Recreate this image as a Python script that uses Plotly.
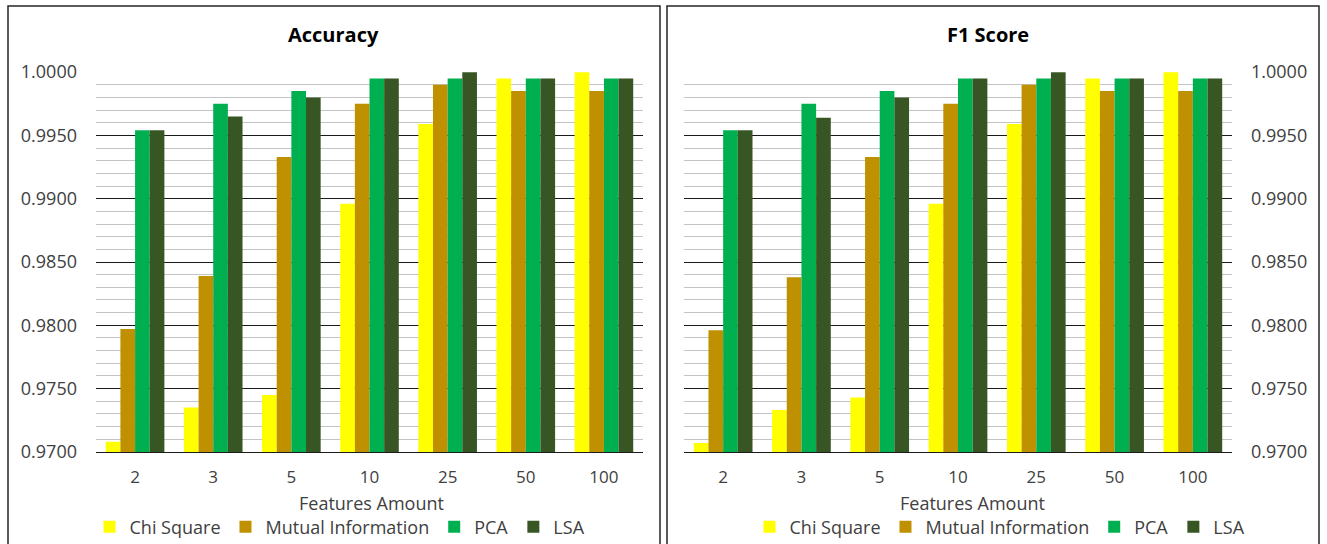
import plotly.graph_objects as go

W, H = 1327, 544

categories = ["2", "3", "5", "10", "25", "50", "100"]
series_names = ["Chi Square", "Mutual Information", "PCA", "LSA"]
series_colors = ["#FFFF00", "#BF9000", "#00B050", "#375623"]

acc_chi = [0.9708, 0.9735, 0.9745, 0.9896, 0.9959, 0.9995, 1.0000]
acc_mi = [0.9797, 0.9839, 0.9933, 0.9975, 0.9990, 0.9985, 0.9985]
acc_pca = [0.9954, 0.9975, 0.9985, 0.9995, 0.9995, 0.9995, 0.9995]
acc_lsa = [0.9954, 0.9965, 0.9980, 0.9995, 1.0000, 0.9995, 0.9995]

f1_chi = [0.9707, 0.9733, 0.9743, 0.9896, 0.9959, 0.9995, 1.0000]
f1_mi = [0.9796, 0.9838, 0.9933, 0.9975, 0.9990, 0.9985, 0.9985]
f1_pca = [0.9954, 0.9975, 0.9985, 0.9995, 0.9995, 0.9995, 0.9995]
f1_lsa = [0.9954, 0.9964, 0.9980, 0.9995, 1.0000, 0.9995, 0.9995]

y_ticks = [0.9700, 0.9750, 0.9800, 0.9850, 0.9900, 0.9950, 1.0000]

FONT = "Open Sans"
TXT = "#404040"

fig = go.Figure()

acc_series = [acc_chi, acc_mi, acc_pca, acc_lsa]
f1_series = [f1_chi, f1_mi, f1_pca, f1_lsa]

for name, color, vals in zip(series_names, series_colors, acc_series):
    fig.add_trace(go.Bar(x=categories, y=vals, name=name, marker=dict(color=color, line=dict(width=0)),
                         xaxis="x", yaxis="y", legend="legend"))
for name, color, vals in zip(series_names, series_colors, f1_series):
    fig.add_trace(go.Bar(x=categories, y=vals, name=name, marker=dict(color=color, line=dict(width=0)),
                         xaxis="x2", yaxis="y2", legend="legend2"))

def px_x(v):
    return v / W

def px_y(v):
    return 1 - v / H

yaxis_common = dict(
    range=[0.96999, 1.00001],
    tickvals=y_ticks,
    tickformat=".4f",
    showgrid=True,
    gridcolor="#1a1a1a",
    gridwidth=1,
    minor=dict(dtick=0.001, tick0=0.97, showgrid=True, gridcolor="#c4c4c4", gridwidth=1.2),
    zeroline=False,
    showline=False,
    ticks="",
    tickfont=dict(family=FONT, size=18, color=TXT),
    domain=[px_y(452), px_y(72)],
    fixedrange=True,
    automargin=False,
)
xaxis_common = dict(
    type="category",
    showgrid=False,
    showline=True,
    linecolor="#1a1a1a",
    linewidth=1,
    ticks="",
    tickfont=dict(family=FONT, size=17, color=TXT),
    ticklabelstandoff=10,
    fixedrange=True,
    automargin=False,
)

fig.update_layout(
    width=W, height=H,
    margin=dict(l=0, r=0, t=0, b=0, pad=0, autoexpand=False),
    paper_bgcolor="white",
    plot_bgcolor="white",
    barmode="group",
    bargap=0.25,
    bargroupgap=0,
    font=dict(family=FONT, size=18, color=TXT),
    xaxis=dict(xaxis_common, domain=[px_x(96), px_x(643)], anchor="y"),
    yaxis=dict(yaxis_common, anchor="x", side="left", ticklabelstandoff=18),
    xaxis2=dict(xaxis_common, domain=[px_x(684), px_x(1232)], anchor="y2"),
    yaxis2=dict(yaxis_common, anchor="x2", side="right", ticklabelstandoff=18),
    legend=dict(orientation="h", x=px_x(340), y=px_y(527), xanchor="center", yanchor="middle",
                font=dict(family=FONT, size=18, color=TXT), itemwidth=30, bgcolor="rgba(0,0,0,0)"),
    legend2=dict(orientation="h", x=px_x(1000), y=px_y(527), xanchor="center", yanchor="middle",
                 font=dict(family=FONT, size=18, color=TXT), itemwidth=30, bgcolor="rgba(0,0,0,0)"),
    shapes=[
        dict(type="rect", xref="paper", yref="paper", x0=px_x(8), x1=px_x(660), y0=-0.05, y1=px_y(6),
             line=dict(color="#262626", width=1.5), layer="above"),
        dict(type="rect", xref="paper", yref="paper", x0=px_x(667), x1=px_x(1319), y0=-0.05, y1=px_y(6),
             line=dict(color="#262626", width=1.5), layer="above"),
    ],
    annotations=[
        dict(text="<b>Accuracy</b>", x=px_x(333), y=px_y(34), xref="paper", yref="paper",
             xanchor="center", yanchor="middle", showarrow=False,
             font=dict(family=FONT, size=20, color="#000000")),
        dict(text="<b>F1 Score</b>", x=px_x(988), y=px_y(34), xref="paper", yref="paper",
             xanchor="center", yanchor="middle", showarrow=False,
             font=dict(family=FONT, size=20, color="#000000")),
        dict(text="Features Amount", x=px_x(371), y=px_y(503), xref="paper", yref="paper",
             xanchor="center", yanchor="middle", showarrow=False,
             font=dict(family=FONT, size=18, color=TXT)),
        dict(text="Features Amount", x=px_x(973), y=px_y(503), xref="paper", yref="paper",
             xanchor="center", yanchor="middle", showarrow=False,
             font=dict(family=FONT, size=18, color=TXT)),
    ],
)

fig.write_html("out.html")
